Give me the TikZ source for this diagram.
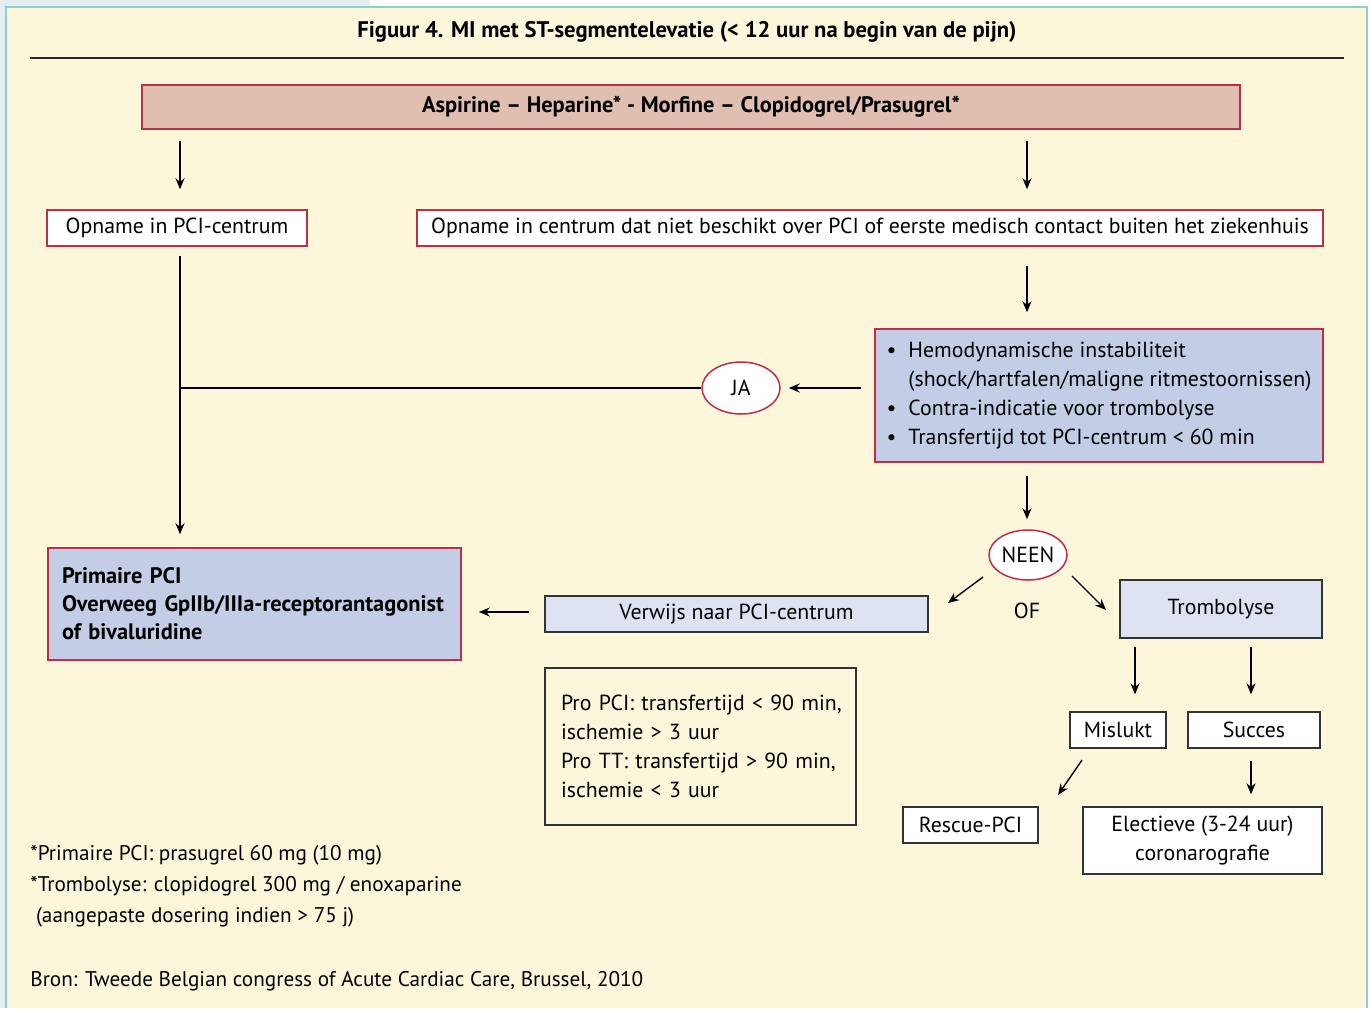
\documentclass[tikz,border=0pt]{standalone}
\usepackage{fontspec}
\setmainfont{PT Sans}
\usetikzlibrary{arrows.meta,shapes.geometric,calc}
\definecolor{cream}{HTML}{FCF6DA}
\definecolor{framec}{HTML}{8ECFCF}
\definecolor{stripc}{HTML}{E4EEF1}
\definecolor{crimson}{HTML}{B8304A}
\definecolor{pinkfill}{HTML}{E1BFB0}
\definecolor{bluefill}{HTML}{C3CDE6}
\definecolor{lightblue}{HTML}{DDE3F1}
\definecolor{darkline}{HTML}{333333}
\tikzset{
  redbox/.style={draw=crimson, line width=0.75pt, inner sep=0pt, fill=white},
  darkbox/.style={draw=darkline, line width=0.7pt, inner sep=0pt, fill=white},
  arr/.style={-{Stealth[length=5.5pt,width=4.5pt]}, line width=0.7pt, black},
  plain/.style={line width=0.7pt, black},
  oval/.style={ellipse, draw=crimson, line width=0.75pt, fill=white, inner sep=0pt},
  boldtxt/.style={font=\fontsize{11.2}{14.5}\selectfont\bfseries},
  foot/.style={anchor=west, inner xsep=0pt, font=\fontsize{10.6}{14.5}\selectfont},
}
\begin{document}
\begin{tikzpicture}[x=0.5pt,y=-0.5pt,font=\fontsize{10.9}{14.5}\selectfont]
\useasboundingbox (0,0) rectangle (1370,1008);
% background
\fill[white] (0,0) rectangle (1370,1008);
\fill[stripc] (0,0) rectangle (370,7);
\fill[stripc] (0,0) rectangle (6,1008);
\fill[cream] (6,7) rectangle (1367,1008);
\draw[framec, line width=1pt] (6,1008) -- (6,7) -- (1367,7) -- (1367,1008);

% title
\node[font=\fontsize{11.3}{14.5}\selectfont\bfseries] (title) at (687,32)
  {Figuur 4. MI met ST-segmentelevatie (< 12 uur na begin van de pijn)};
\draw[line width=0.8pt, black!85] (30,58) -- (1344,58);

% nodes
\node[draw=crimson, fill=pinkfill, line width=0.75pt, inner sep=0pt,
  minimum width=549pt, minimum height=22pt, boldtxt]
  (top) at (691,107) {Aspirine – Heparine* - Morfine – Clopidogrel/Prasugrel*};

\node[redbox, minimum width=130pt, minimum height=18pt] (opn1) at (177,228) {Opname in PCI-centrum};
\node[redbox, minimum width=453pt, minimum height=18pt] (opn2) at (870,228)
  {Opname in centrum dat niet beschikt over PCI of eerste medisch contact buiten het ziekenhuis};

\node[draw=crimson, fill=bluefill, line width=0.75pt, inner sep=0pt,
  minimum width=224pt, minimum height=66.5pt] (crit) at (1099,395.5)
  {\begin{tabular}{@{}l@{\hspace{6pt}}l@{}}
   \textbullet & Hemodynamische instabiliteit\\
               & (shock/hartfalen/maligne ritmestoornissen)\\
   \textbullet & Contra-indicatie voor trombolyse\\
   \textbullet & Transfertijd tot PCI-centrum < 60 min
   \end{tabular}};

\node[oval, minimum width=39pt, minimum height=26pt] (ja) at (741,388) {JA};

\node[draw=crimson, fill=bluefill, line width=0.75pt, inner xsep=7pt, inner ysep=0pt,
  text width=192.5pt, align=left, minimum height=56pt,
  font=\fontsize{11.2}{14}\selectfont\bfseries] (prim) at (254.5,604)
  {Primaire PCI\\Overweeg GpIIb/IIIa-receptorantagonist\\of bivaluridine};

\node[oval, minimum width=39pt, minimum height=25pt] (neen) at (1028,555) {NEEN};
\node (of) at (1027,611) {OF};

\node[darkbox, fill=lightblue, minimum width=191.5pt, minimum height=18pt] (verw) at (736.5,614) {Verwijs naar PCI-centrum};
\node[darkbox, fill=lightblue, minimum width=101pt, minimum height=29pt] (tromb) at (1221,609) {Trombolyse};

\node[darkbox, fill=cream, inner xsep=8pt, text width=139.5pt, align=left,
  minimum height=78.5pt] (pro) at (700.5,746.5)
  {\mbox{Pro PCI: transfertijd < 90 min,}\\\mbox{ischemie > 3 uur}\\\mbox{Pro TT: transfertijd > 90 min,}\\\mbox{ischemie < 3 uur}};

\node[darkbox, minimum width=48pt, minimum height=18pt] (misl) at (1118,730) {Mislukt};
\node[darkbox, minimum width=66pt, minimum height=18pt] (succ) at (1254,730) {Succes};
\node[darkbox, minimum width=67.5pt, minimum height=18pt] (resc) at (970.5,825) {Rescue-PCI};
\node[darkbox, minimum width=119.5pt, minimum height=33.5pt, align=center] (elec) at (1202.5,840.5)
  {Electieve (3-24 uur)\\coronarografie};

% footnotes
\node[foot] (fn1) at (30,855) {*Primaire PCI: prasugrel 60 mg (10 mg)};
\node[foot] (fn2) at (30,886) {*Trombolyse: clopidogrel 300 mg / enoxaparine};
\node[foot] (fn3) at (30,917) {\ (aangepaste dosering indien > 75 j)};
\node[foot] (src) at (30,981) {Bron: Tweede Belgian congress of Acute Cardiac Care, Brussel, 2010};

% helper coordinates
\coordinate (xl) at (180,0);
\coordinate (xr) at (1027,0);
\coordinate (xm) at (1135,0);
\coordinate (xs) at (1251,0);
\coordinate (yv) at (0,612);
\coordinate (n1) at (983,577);
\coordinate (v1) at (948,603);
\coordinate (n2) at (1072,576);
\coordinate (t1) at (1106,610);
\coordinate (m1) at (1082,760);
\coordinate (r1) at (1058,795);

% connectors
\draw[arr, shorten <=5.5pt, shorten >=10pt] (top.south -| xl) -- (opn1.north -| xl);
\draw[arr, shorten <=5.5pt, shorten >=10pt] (top.south -| xr) -- (opn2.north -| xr);
\draw[arr, shorten <=9.5pt, shorten >=8pt] (opn2.south -| xr) -- (crit.north -| xr);
\draw[arr, shorten <=6.5pt, shorten >=4pt] (crit.west |- ja.east) -- (ja.east);
\draw[plain] (ja.west) -- (ja.west -| xl);
\draw[arr, shorten <=4.5pt, shorten >=6.5pt] (opn1.south -| xl) -- (prim.north -| xl);
\draw[arr, shorten <=6.5pt, shorten >=5pt] (crit.south -| xr) -- (neen.north -| xr);
\draw[arr] (n1) -- (v1);
\draw[arr] (n2) -- (t1);
\draw[arr, shorten <=7.5pt, shorten >=8.5pt] (verw.west |- yv) -- (prim.east |- yv);
\draw[arr, shorten <=4pt, shorten >=8.5pt] (tromb.south -| xm) -- (misl.north -| xm);
\draw[arr, shorten <=4pt, shorten >=8.5pt] (tromb.south -| xs) -- (succ.north -| xs);
\draw[arr] (m1) -- (r1);
\draw[arr, shorten <=6pt, shorten >=6pt] (succ.south -| xs) -- (elec.north -| xs);
\end{tikzpicture}
\end{document}
